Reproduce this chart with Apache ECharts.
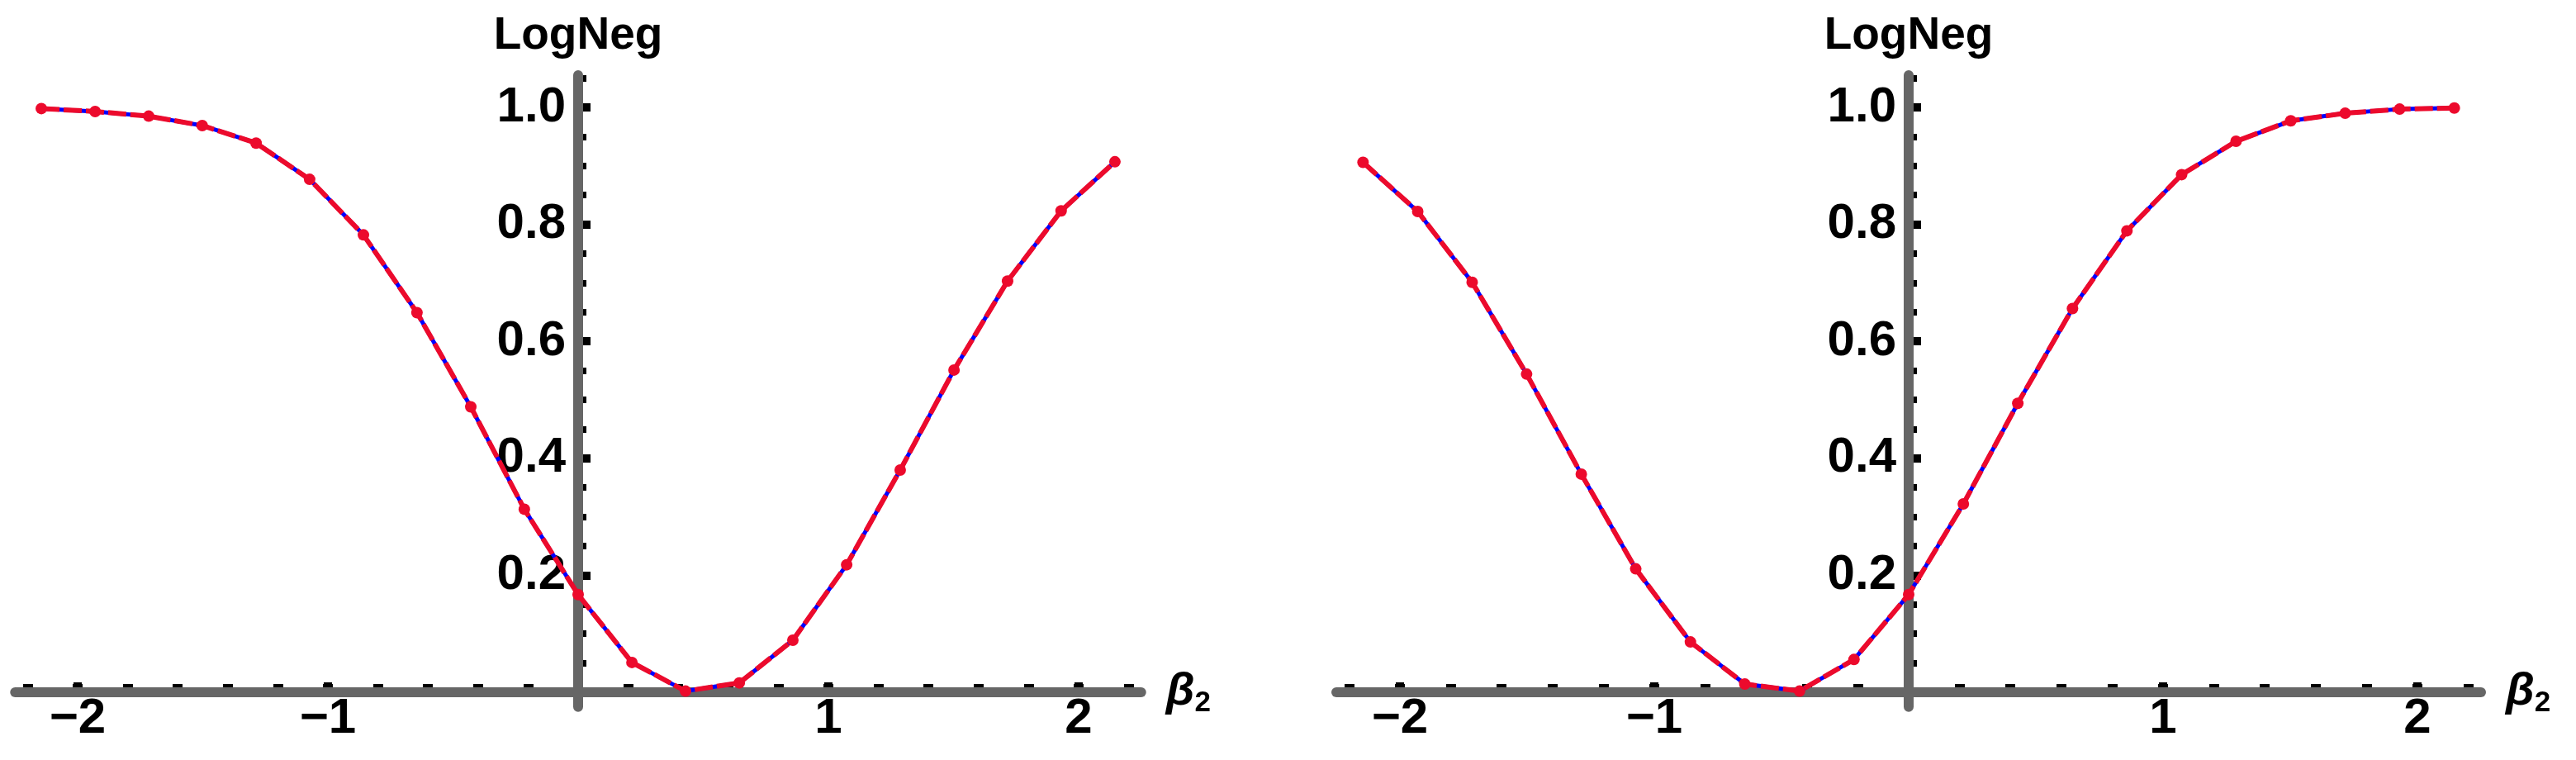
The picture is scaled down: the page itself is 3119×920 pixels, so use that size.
<!DOCTYPE html>
<html>
<head>
<meta charset="utf-8">
<script src="https://cdn.jsdelivr.net/npm/echarts@6/dist/echarts.min.js"></script>
<style>
html, body { margin: 0; padding: 0; background: #fff; }
#main { width: 3119px; height: 920px; }
</style>
</head>
<body>
<div id="main"></div>
<script>
// sample points (beta_2) shared by both panels
var beta = [-2.145, -1.93, -1.716, -1.502, -1.287, -1.073, -0.858, -0.644, -0.429, -0.215, 0,
            0.215, 0.429, 0.644, 0.858, 1.073, 1.287, 1.502, 1.716, 1.93, 2.145];
var logNegLeft = [0.998, 0.993, 0.985, 0.969, 0.939, 0.877, 0.782, 0.649, 0.488, 0.313, 0.167,
                  0.051, 0.002, 0.016, 0.089, 0.218, 0.380, 0.551, 0.703, 0.823, 0.907];
var logNegRight = [0.906, 0.822, 0.701, 0.544, 0.373, 0.211, 0.086, 0.014, 0.002, 0.056, 0.167,
                   0.322, 0.494, 0.656, 0.789, 0.885, 0.942, 0.977, 0.990, 0.997, 0.999];
var xTickLabels = [-2, -1, 1, 2];
var yTickLabels = [0.2, 0.4, 0.6, 0.8, 1.0];

var chart = echarts.init(document.getElementById('main'));

var Y0 = 838, UY = 708, AW = 12, HALF = AW / 2;
var panels = [
	{ x0: 700, ux: 303, data: logNegLeft },
	{ x0: 2311, ux: 308, data: logNegRight }
];
var family = 'Liberation Sans, Arial, sans-serif';
var tickColor = '#000';

function hasVal(list, v) {
	for (var i = 0; i < list.length; i++) {
		if (Math.abs(list[i] - v) < 1e-6) return true;
	}
	return false;
}

var grids = [], xAxes = [], yAxes = [], series = [];

function hiddenAxis(g, min, max) {
	return { gridIndex: g, type: 'value', min: min, max: max, show: false, splitLine: { show: false } };
}

panels.forEach(function (p) {
	var b = grids.length;
	// data grid
	grids.push({ left: p.x0 - 2.25 * p.ux, top: Y0 - 1.055 * UY, width: 4.5 * p.ux, height: 1.08 * UY, outerBoundsMode: 'none' });
	// x minor ticks
	grids.push({ left: p.x0 - 2.2 * p.ux, top: Y0 - HALF - 50, width: 4.4 * p.ux, height: 50, outerBoundsMode: 'none' });
	// x major ticks + labels
	grids.push({ left: p.x0 - 2 * p.ux, top: Y0 - HALF - 50, width: 4 * p.ux, height: 50, outerBoundsMode: 'none' });
	// y minor ticks
	grids.push({ left: p.x0 + HALF, top: Y0 - 1.05 * UY, width: 50, height: 1.05 * UY, outerBoundsMode: 'none' });
	// y major ticks + labels
	grids.push({ left: p.x0 + HALF, top: Y0 - UY, width: 50, height: UY, outerBoundsMode: 'none' });

	xAxes.push({
		gridIndex: b, type: 'value', min: -2.25, max: 2.25, z: 3,
		axisLine: { show: true, onZero: true, lineStyle: { color: '#666666', width: AW } },
		axisTick: { show: false }, axisLabel: { show: false }, splitLine: { show: false },
		name: '{b|β}{s|2}', nameLocation: 'end', nameGap: 30,
		nameTextStyle: {
			rich: {
				b: { fontFamily: family, fontWeight: 'bold', fontStyle: 'italic', fontSize: 56, color: '#000' },
				s: { fontFamily: family, fontWeight: 'bold', fontSize: 35, color: '#000', padding: [26, 0, 0, 0] }
			}
		}
	});
	yAxes.push({
		gridIndex: b, type: 'value', min: -0.025, max: 1.055, z: 3,
		axisLine: { show: true, onZero: true, lineStyle: { color: '#666666', width: AW } },
		axisTick: { show: false }, axisLabel: { show: false }, splitLine: { show: false },
		name: 'LogNeg', nameLocation: 'end', nameGap: 20,
		nameTextStyle: { fontFamily: family, fontWeight: 'bold', fontSize: 55, color: '#000' }
	});

	xAxes.push({
		gridIndex: b + 1, type: 'value', min: -2.2, max: 2.2, interval: 0.2, position: 'bottom',
		axisLine: { show: false, onZero: false },
		axisTick: { show: true, inside: true, length: 4, lineStyle: { color: tickColor, width: 12 } },
		axisLabel: { show: false }, splitLine: { show: false }
	});
	yAxes.push(hiddenAxis(b + 1, 0, 1));

	xAxes.push({
		gridIndex: b + 2, type: 'value', min: -2, max: 2, interval: 1, position: 'bottom',
		axisLine: { show: false, onZero: false },
		axisTick: { show: true, inside: true, length: 6, lineStyle: { color: tickColor, width: 10 } },
		axisLabel: {
			show: true, margin: 8, fontFamily: family, fontWeight: 'bold', fontSize: 60, color: '#000',
			formatter: function (v) { return hasVal(xTickLabels, v) ? String(v).replace('-', '\u2212') : ''; }
		},
		splitLine: { show: false }
	});
	yAxes.push(hiddenAxis(b + 2, 0, 1));

	xAxes.push(hiddenAxis(b + 3, 0, 1));
	yAxes.push({
		gridIndex: b + 3, type: 'value', min: 0, max: 1.05, interval: 0.05, position: 'left',
		axisLine: { show: false, onZero: false },
		axisTick: { show: true, inside: true, length: 4, lineStyle: { color: tickColor, width: 8 } },
		axisLabel: { show: false }, splitLine: { show: false }
	});

	xAxes.push(hiddenAxis(b + 4, 0, 1));
	yAxes.push({
		gridIndex: b + 4, type: 'value', min: 0, max: 1, interval: 0.2, position: 'left',
		axisLine: { show: false, onZero: false },
		axisTick: { show: true, inside: true, length: 9, lineStyle: { color: tickColor, width: 10 } },
		axisLabel: {
			show: true, margin: 21, fontFamily: family, fontWeight: 'bold', fontSize: 60, color: '#000',
			padding: [0, 0, 12, 0],
			formatter: function (v) { return hasVal(yTickLabels, v) ? v.toFixed(1) : ''; }
		},
		splitLine: { show: false }
	});

	var pts = beta.map(function (x, i) { return [x, p.data[i]]; });
	series.push({
		type: 'line', xAxisIndex: b, yAxisIndex: b, data: pts,
		showSymbol: false, silent: true, z: 4,
		lineStyle: { color: '#0000ff', width: 5 }
	});
	series.push({
		type: 'line', xAxisIndex: b, yAxisIndex: b, data: pts,
		symbol: 'circle', symbolSize: 14, silent: true, z: 5,
		itemStyle: { color: '#ec0a2c' },
		lineStyle: { color: '#ec0a2c', width: 6, type: [22, 5] }
	});
});

chart.setOption({
	animation: false,
	backgroundColor: '#ffffff',
	grid: grids,
	xAxis: xAxes,
	yAxis: yAxes,
	series: series
});
</script>
</body>
</html>
